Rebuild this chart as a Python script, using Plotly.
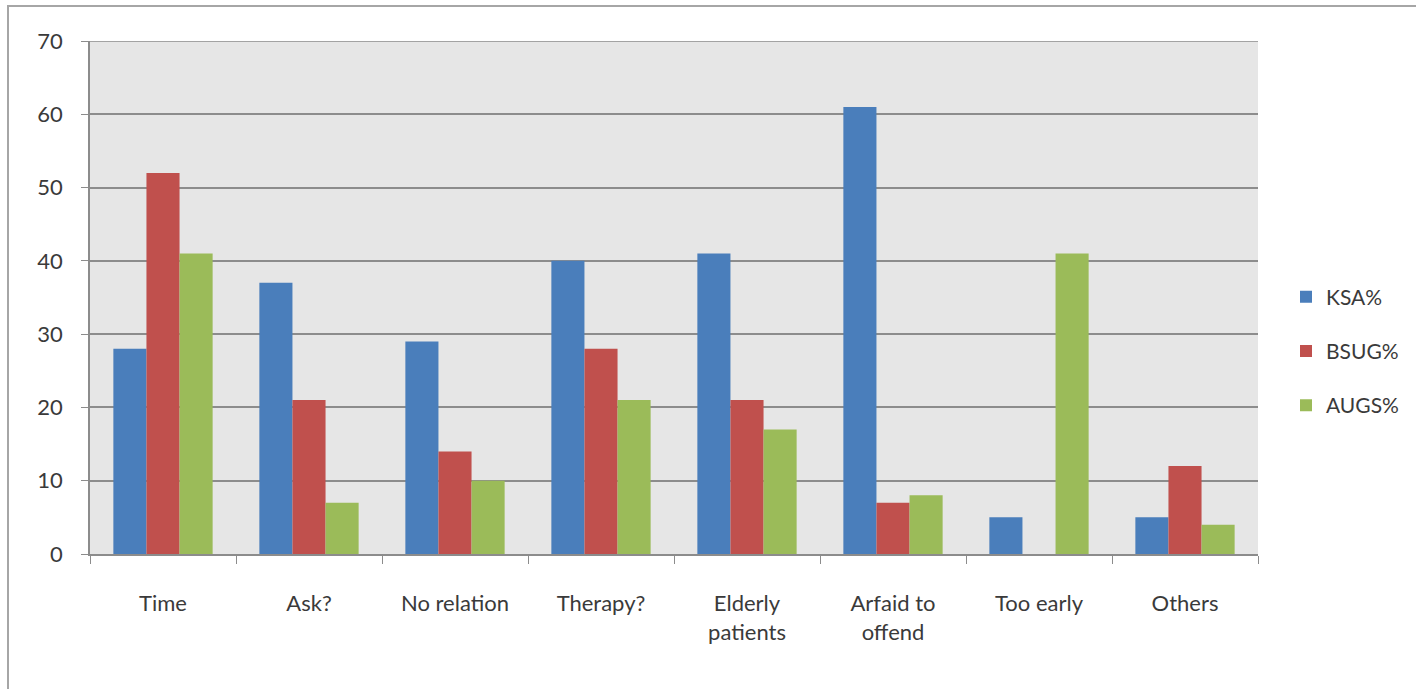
import plotly.graph_objects as go

categories = ["Time", "Ask?", "No relation", "Therapy?", "Elderly<br>patients",
              "Arfaid to<br>offend", "Too early", "Others"]
ksa = [28, 37, 29, 40, 41, 61, 5, 5]
bsug = [52, 21, 14, 28, 21, 7, 0, 12]
augs = [41, 7, 10, 21, 17, 8, 41, 4]
series_names = ["KSA%", "BSUG%", "AUGS%"]
colors = ["#4A7EBB", "#C0504D", "#9BBB59"]

fig = go.Figure()
for i, (name, vals) in enumerate(zip(series_names, [ksa, bsug, augs])):
    fig.add_trace(go.Bar(x=categories, y=vals, name=name, marker_color=colors[i],
                         marker_line_width=0, legendgroup=name))

W, H = 1416, 689
L, R, T, B = 90, 1258, 41, 554
pw, ph = R - L, B - T

font_fam = "Lato, 'Open Sans', sans-serif"
fig.update_layout(
    width=W, height=H,
    margin=dict(l=L, r=W - R, t=T, b=H - B),
    paper_bgcolor="white",
    plot_bgcolor="#E6E6E6",
    barmode="group",
    bargap=0.32,
    bargroupgap=0,
    font=dict(family=font_fam, size=22, color="#3A3A3A"),
    showlegend=True,
    legend=dict(x=(1286 - L) / pw, xanchor="left", y=(B - 351) / ph, yanchor="middle",
                font=dict(size=21, color="#3A3A3A"), tracegroupgap=24,
                bgcolor="rgba(0,0,0,0)", itemwidth=30),
    xaxis=dict(showgrid=False, showline=True, linecolor="#8C8C8C", linewidth=1.5,
               ticks="outside", tickson="boundaries", ticklen=8, tickcolor="#8C8C8C",
               ticklabelstandoff=29,
               tickfont=dict(size=22, color="#3A3A3A")),
    yaxis=dict(range=[0, 70], dtick=10, showgrid=True, gridcolor="#8C8C8C", gridwidth=1.5,
               showline=True, linecolor="#8C8C8C", linewidth=1.5, ticks="outside",
               ticklen=7, tickcolor="#8C8C8C", zeroline=False, ticklabelstandoff=14,
               tickfont=dict(size=22, color="#3A3A3A")),
    shapes=[
        dict(type="rect", xref="paper", yref="paper",
             x0=(8 - L) / pw, x1=(W + 20 - L) / pw,
             y0=(B - (H + 20)) / ph, y1=(B - 6) / ph,
             line=dict(color="#A6A6A6", width=2), fillcolor="rgba(0,0,0,0)",
             layer="below"),
        dict(type="line", xref="paper", yref="y", x0=0, x1=1, y0=70, y1=70,
             line=dict(color="#8C8C8C", width=1.5)),
    ],
)

fig.write_html("out.html")
